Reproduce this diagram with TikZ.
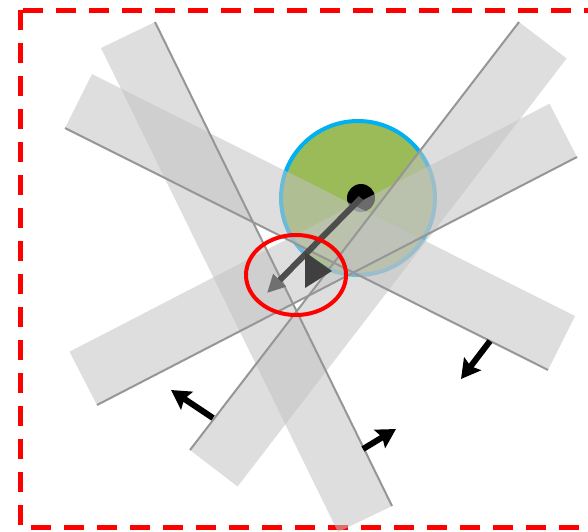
\documentclass[tikz,border=0pt]{standalone}
\usetikzlibrary{arrows.meta,calc}

\definecolor{stripgray}{RGB}{195,195,195}
\definecolor{edgegray}{RGB}{150,150,150}
\definecolor{discgreen}{RGB}{155,187,89}
\definecolor{discblue}{RGB}{0,176,240}
\definecolor{shaftgray}{RGB}{77,77,77}
\definecolor{headgray}{RGB}{112,112,112}
\definecolor{wedgegray}{RGB}{64,64,64}

\tikzset{
  strip/.style={fill=stripgray, fill opacity=0.55},
  stripedge/.style={edgegray, line width=2pt},
  push/.style={-{Stealth[length=19pt,width=21pt,inset=3pt]}, line width=6pt},
}

\begin{document}
\begin{tikzpicture}[x=1pt, y=-1pt, >=Stealth]

  % page size (frame runs off the right side)
  \clip (0,0) rectangle (588,531);

  % Red dashed frame
  \draw[red, line width=5pt, dash pattern=on 20pt off 13pt] (20,10) rectangle (620,527);

  % Disc and its centre dot (under the strips)
  \coordinate (C) at (358,198);
  \coordinate (O) at (361,198);
  \filldraw[fill=discgreen, draw=discblue, line width=4pt] (C) circle[radius=77];
  \fill[black] (O) circle[radius=14];

  % Four strips: edge line (a)--(b), width offset v
  \coordinate (a1) at (155,22);  \coordinate (b1) at (392,506); \coordinate (v1) at (-54,26);
  \coordinate (a2) at (65,128);  \coordinate (b2) at (548,370); \coordinate (v2) at (27,-54);
  \coordinate (a3) at (97,405);  \coordinate (b3) at (577,157); \coordinate (v3) at (-27.5,-53.3);
  \coordinate (a4) at (190,450); \coordinate (b4) at (519,22);  \coordinate (v4) at (47.6,36.5);

  \foreach \i in {1,2,3,4} {
    \fill[strip] (a\i) -- (b\i) -- ($(b\i)+(v\i)$) -- ($(a\i)+(v\i)$) -- cycle;
  }
  \foreach \i in {1,2,3,4} {
    \draw[stripedge] (a\i) -- (b\i);
  }

  % Gray arrow from the dot and dark wedge
  \coordinate (T) at (267,293);
  \draw[shaftgray, line width=6pt, -{Triangle[length=18pt,width=17pt,color=headgray]}] (O) -- (T);
  \fill[wedgegray] (305,252) -- (305,288) -- (332,271) -- cycle;

  % Red ellipse
  \draw[red, line width=4pt] (296,275) ellipse[x radius=50, y radius=40];

  % Black arrows
  \coordinate (p1) at (490,341); \coordinate (q1) at (461,379);
  \coordinate (p2) at (213,418); \coordinate (q2) at (171,390);
  \coordinate (p3) at (363,449); \coordinate (q3) at (396,429);
  \foreach \i in {1,2,3} {
    \draw[push] (p\i) -- (q\i);
  }

\end{tikzpicture}
\end{document}
